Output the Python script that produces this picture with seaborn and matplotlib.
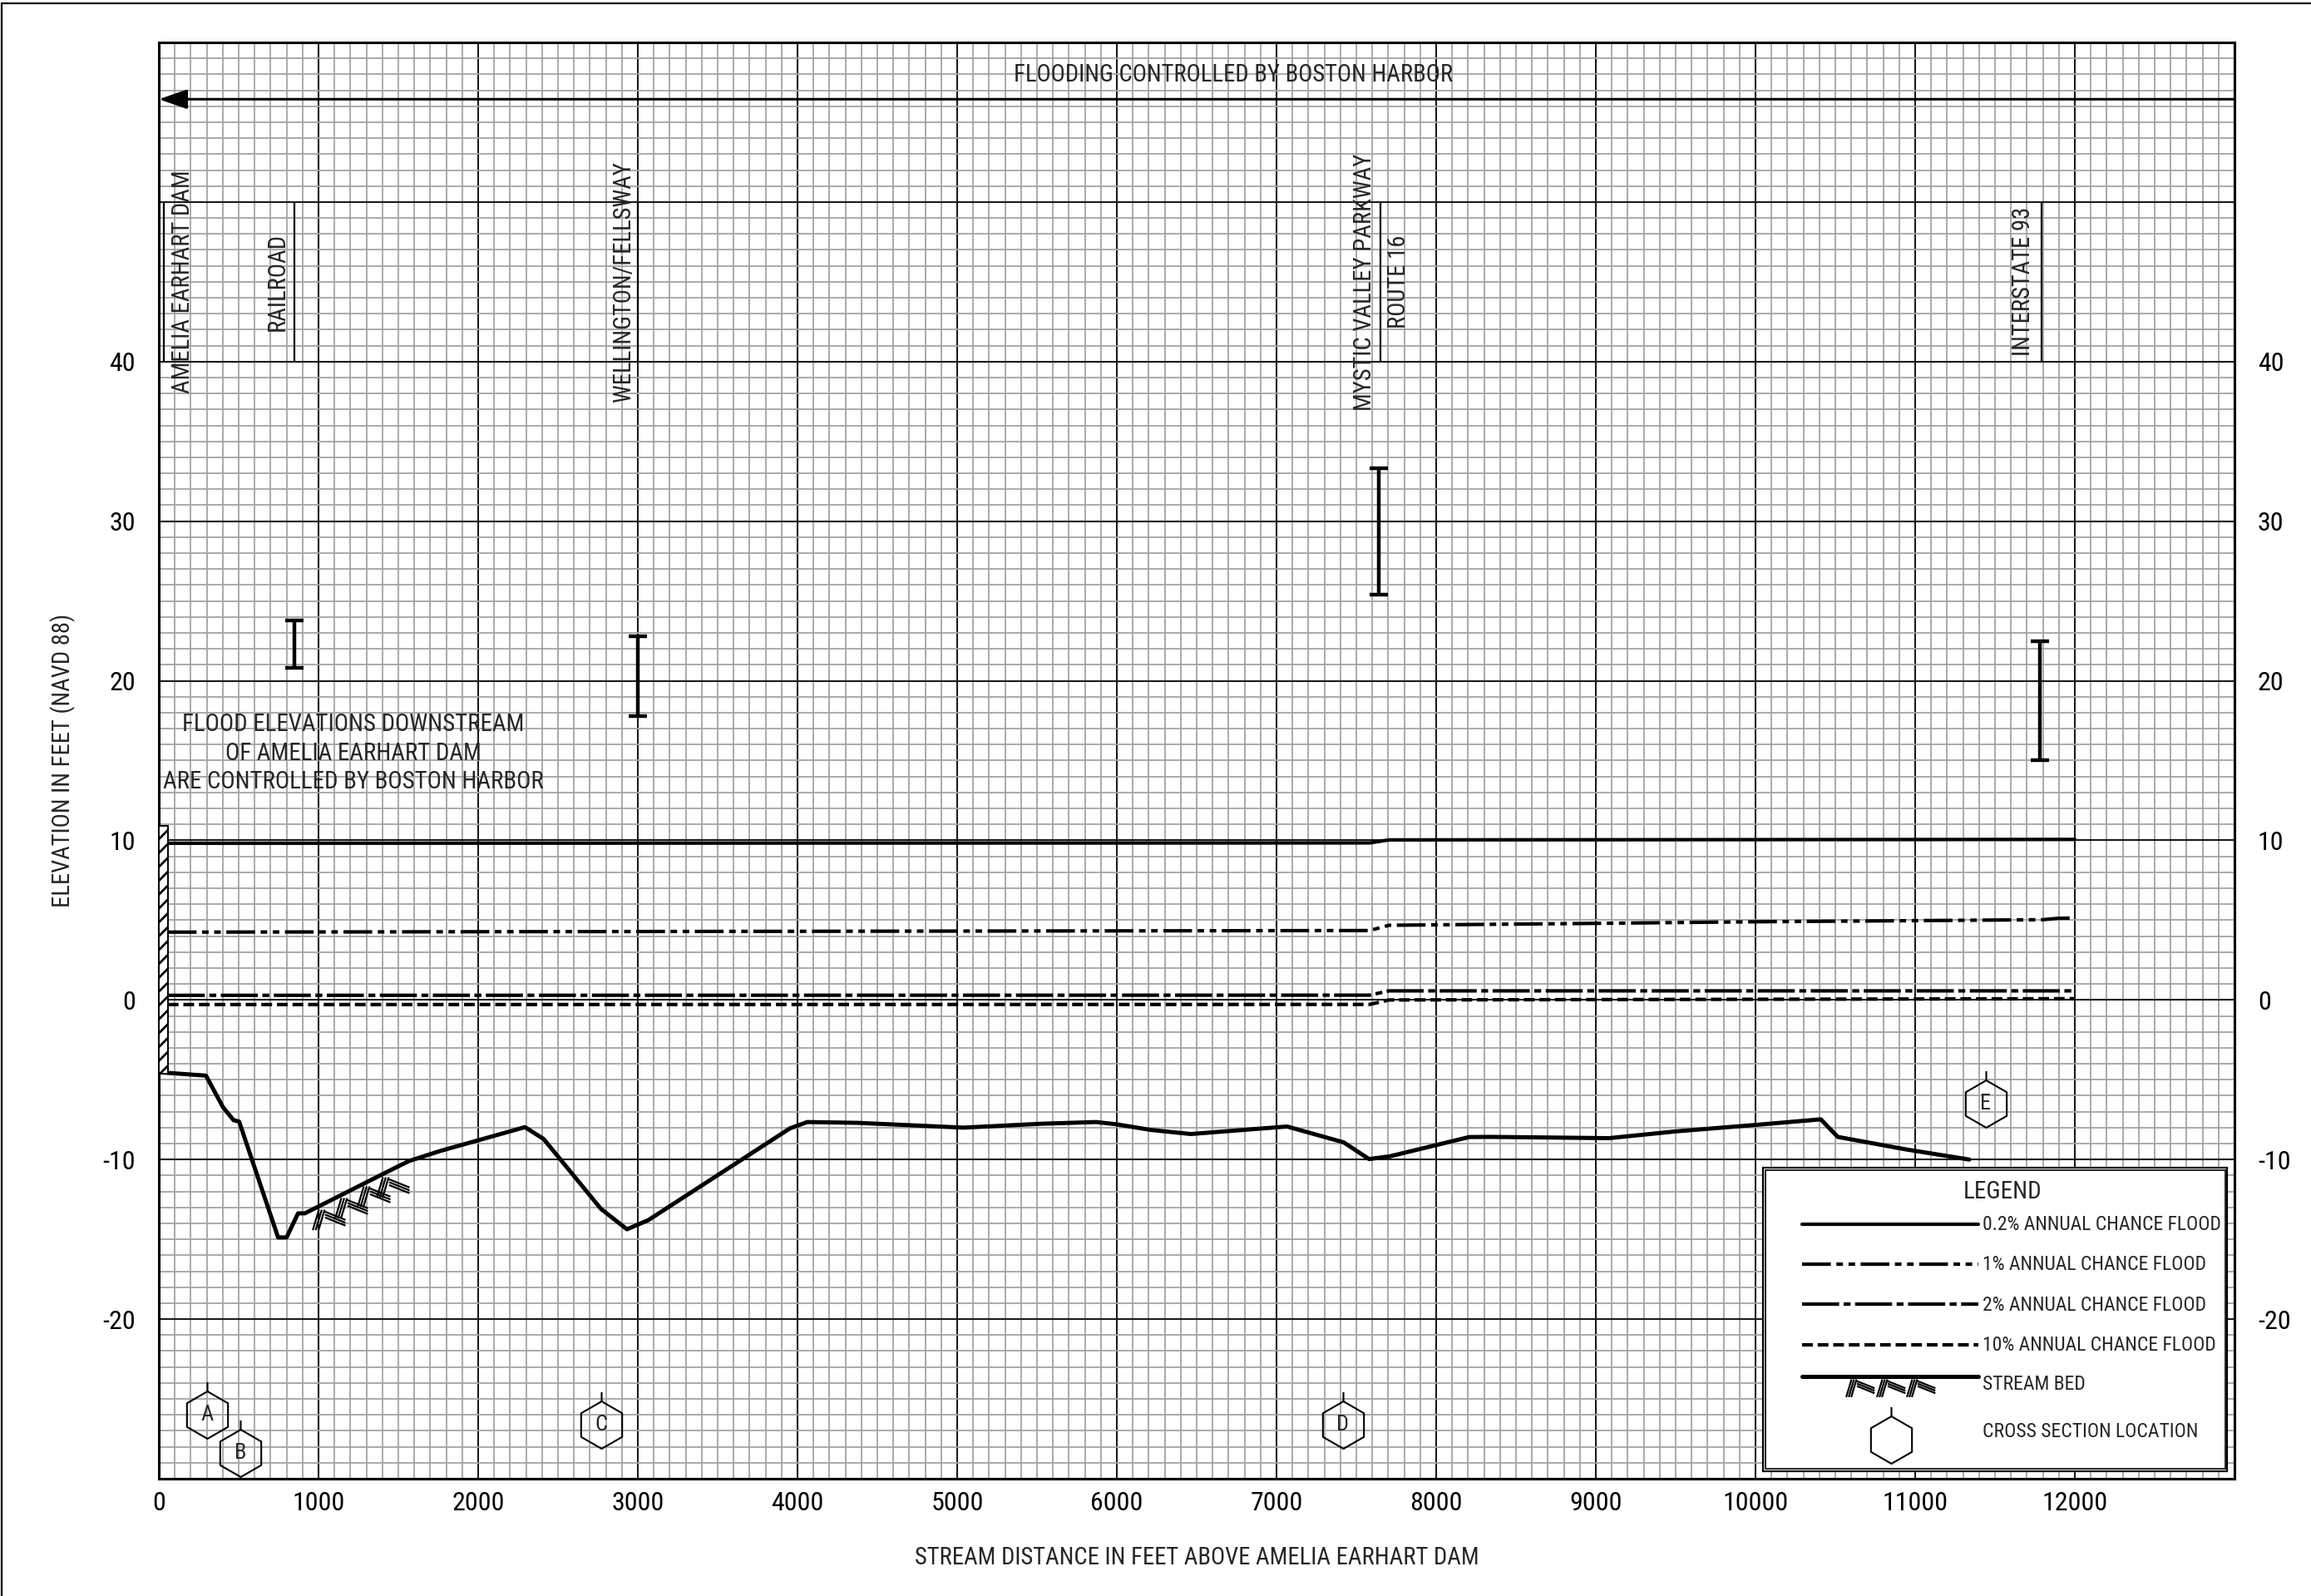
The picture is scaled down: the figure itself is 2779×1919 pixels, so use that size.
import numpy as np
import pandas as pd
import matplotlib
matplotlib.use("Agg")
import matplotlib.pyplot as plt
from matplotlib import font_manager
from matplotlib.path import Path
from matplotlib.patches import Rectangle
from matplotlib.lines import Line2D
from matplotlib.ticker import MultipleLocator, FuncFormatter
import seaborn as sns

# ---- data ----
BED_X = [0, 295, 402, 468, 503, 747, 800, 872, 915, 1484, 1565, 1763, 2293, 2410,
         2769, 2932, 3065, 3952, 4061, 4375, 5040, 5519, 5870, 5997, 6210, 6463,
         7066, 7420, 7580, 7713, 8207, 8340, 9082, 9506, 10000, 10409, 10515,
         10940, 11339]
BED_Y = [-4.53, -4.74, -6.72, -7.53, -7.62, -14.88, -14.88, -13.37, -13.37, -10.5,
         -10.1, -9.46, -7.97, -8.71, -13.09, -14.37, -13.8, -8.05, -7.65, -7.70,
         -8.0, -7.76, -7.65, -7.79, -8.14, -8.40, -7.93, -8.92, -9.97, -9.79,
         -8.59, -8.58, -8.66, -8.23, -7.83, -7.48, -8.58, -9.36, -10.0]

P02_X = [56, 7583, 7705, 12000]
P02_Y = [9.82, 9.84, 10.03, 10.06]
P1_X = [56, 7583, 7705, 9000, 10000, 11000, 11800, 11900, 12000]
P1_Y = [4.25, 4.35, 4.68, 4.80, 4.90, 4.97, 5.03, 5.12, 5.13]
P2_X = [56, 7583, 7705, 12000]
P2_Y = [0.29, 0.30, 0.57, 0.57]
P10_X = [56, 7583, 7705, 12000]
P10_Y = [-0.29, -0.28, 0.0, 0.08]

PROFILE_NAMES = ["0.2% ANNUAL CHANCE FLOOD", "1% ANNUAL CHANCE FLOOD",
                 "2% ANNUAL CHANCE FLOOD", "10% ANNUAL CHANCE FLOOD"]

ROAD_NAMES = ["AMELIA EARHART DAM", "RAILROAD", "WELLINGTON/FELLSWAY",
              "MYSTIC VALLEY PARKWAY", "ROUTE 16", "INTERSTATE 93"]
ROAD_LABEL_X = [151, 745, 2911, 7550, 7765, 11675]
ROAD_LINE_X = [30, 850, 3000, 7650, 11790]

DECK_X = [850, 3000, 7643, 11780]
DECK_TOP = [23.8, 22.8, 33.3, 22.5]
DECK_LOW = [20.8, 17.8, 25.4, 15.0]

XS_LETTERS = ["A", "B", "C", "D", "E"]
XS_X = [300, 513, 2769, 7415, 11441]
XS_Y = [-26.0, -28.4, -26.6, -26.6, -6.5]

BED_SYMBOL_X = [1000, 1140, 1280, 1400]

DAM_X = [0, 55]
DAM_Y = [-4.6, 10.9]

X_MAX, Y_MIN, Y_MAX = 13000, -30, 60


def pick_font():
    fonts = font_manager.fontManager.ttflist
    names = {f.name for f in fonts}
    for name in ("Liberation Sans Narrow", "Roboto Condensed", "Open Sans Condensed"):
        if name in names:
            return name, "normal"
    if any(f.name == "DejaVu Sans" and "Condensed" in f.fname for f in fonts):
        return "DejaVu Sans", "condensed"
    return "Liberation Sans", "normal"


def bed_marker():
    # triple-stroke stream bed symbol, apex at (0, 0)
    verts, codes = [], []
    for k in range(3):
        d = 0.14 * k
        verts += [(d, 0.0), (d - 0.3, -1.0), (0.3, -0.1 - d), (1.3, -0.5 - d)]
        codes += [Path.MOVETO, Path.LINETO, Path.MOVETO, Path.LINETO]
    return Path(verts, codes)


def xs_marker():
    hexagon = Path.unit_regular_polygon(6)
    verts = list(hexagon.vertices) + [(0, 1.0), (0, 1.39)]
    codes = list(hexagon.codes) + [Path.MOVETO, Path.LINETO]
    return Path(verts, codes)


sns.set_style("white")
font_name, font_stretch = pick_font()
plt.rcParams["font.family"] = [font_name, "DejaVu Sans"]
plt.rcParams["font.stretch"] = font_stretch
plt.rcParams["axes.unicode_minus"] = False

fig = plt.figure(figsize=(2779 / 200, 1919 / 200), dpi=200)
ax = fig.add_axes([191 / 2779, 1 - 1778 / 1919, 2496 / 2779, 1727 / 1919])

ax.set_xlim(0, X_MAX)
ax.set_ylim(Y_MIN, Y_MAX)
ax.xaxis.set_major_locator(MultipleLocator(1000))
ax.xaxis.set_minor_locator(MultipleLocator(100))
ax.yaxis.set_major_locator(MultipleLocator(10))
ax.yaxis.set_minor_locator(MultipleLocator(1))
ax.xaxis.set_major_formatter(FuncFormatter(lambda v, p: f"{v:.0f}" if v <= 12000 else ""))
ax.yaxis.set_major_formatter(FuncFormatter(lambda v, p: f"{v:.0f}" if -20 <= v <= 40 else ""))
ax.tick_params(which="both", length=0, labelsize=11.5, colors="black")
ax.tick_params(axis="x", pad=5.5)
ax.tick_params(axis="y", pad=10, labelright=True)
ax.set_axisbelow(True)
ax.grid(which="minor", color="#a4a4a4", lw=0.65)
ax.grid(which="major", color="#1a1a1a", lw=0.75)
for sp in ax.spines.values():
    sp.set_color("black")
    sp.set_linewidth(1.1)

ax.set_xlabel("STREAM DISTANCE IN FEET ABOVE AMELIA EARHART DAM", fontsize=10.3)
ax.set_ylabel("ELEVATION IN FEET (NAVD 88)", fontsize=10.3)
ax.xaxis.set_label_coords(0.5, -0.047)
ax.yaxis.set_label_coords(-0.040, 0.5)

# flood profiles
LW = 1.5
profiles = pd.concat([
    pd.DataFrame({"distance": xs, "elevation": ys, "profile": name})
    for xs, ys, name in zip([P02_X, P1_X, P2_X, P10_X], [P02_Y, P1_Y, P2_Y, P10_Y], PROFILE_NAMES)
])
dash_map = {
    PROFILE_NAMES[0]: "",
    PROFILE_NAMES[1]: (8.3, 1.6, 1.9, 1.6, 1.9, 1.6),
    PROFILE_NAMES[2]: (10.7, 1.3, 2.0, 1.3),
    PROFILE_NAMES[3]: (3.1, 1.4),
}
sns.lineplot(data=profiles, x="distance", y="elevation", style="profile",
             dashes=dash_map, color="black", lw=LW, estimator=None, sort=False,
             legend=False, ax=ax, zorder=3)

# stream bed
bed = pd.DataFrame({"distance": BED_X, "elevation": BED_Y})
sns.lineplot(data=bed, x="distance", y="elevation", color="black", lw=1.8,
             estimator=None, sort=False, ax=ax, zorder=3)
sym_y = np.interp(BED_SYMBOL_X, BED_X, BED_Y) - 0.15
ax.plot(BED_SYMBOL_X, sym_y, linestyle="none", marker=bed_marker(), markersize=23,
        markerfacecolor="none", markeredgecolor="black", markeredgewidth=0.8, zorder=3)

# dam
ax.add_patch(Rectangle((DAM_X[0], DAM_Y[0]), DAM_X[1] - DAM_X[0], DAM_Y[1] - DAM_Y[0],
                       facecolor="white", edgecolor="black", hatch="////", lw=0.7, zorder=3))

# bridge decks
deck_mid = [(t + l) / 2 for t, l in zip(DECK_TOP, DECK_LOW)]
deck_half = [(t - l) / 2 for t, l in zip(DECK_TOP, DECK_LOW)]
ax.errorbar(DECK_X, deck_mid, yerr=deck_half, fmt="none", ecolor="black",
            elinewidth=1.6, capsize=3.9, capthick=1.6, zorder=3)

# road / structure labels
ax.vlines(ROAD_LINE_X, 40, 50, colors="black", lw=0.8, zorder=3)
for name, x in zip(ROAD_NAMES, ROAD_LABEL_X):
    ax.text(x, 45, name, rotation=90, ha="center", va="center", fontsize=10.3, zorder=4)

# cross sections
ax.plot(XS_X, XS_Y, linestyle="none", marker=xs_marker(), markersize=28.5,
        markerfacecolor="none", markeredgecolor="black", markeredgewidth=0.75, zorder=3)
for letter, x, y in zip(XS_LETTERS, XS_X, XS_Y):
    ax.text(x, y, letter, ha="center", va="center", fontsize=9.5, zorder=4)

# harbor control notes
ax.annotate("", xy=(0, 56.44), xytext=(X_MAX, 56.44),
            arrowprops=dict(arrowstyle="-|>,head_length=1.04,head_width=0.36",
                            mutation_scale=10, lw=1.1, color="black",
                            shrinkA=0, shrinkB=0), zorder=3)
ax.text(6729, 57.97, "FLOODING CONTROLLED BY BOSTON HARBOR", ha="center", va="center",
        fontsize=10.3, zorder=4)
ax.text(1216, 15.45, "FLOOD ELEVATIONS DOWNSTREAM\nOF AMELIA EARHART DAM\nARE CONTROLLED BY BOSTON HARBOR",
        ha="center", va="center", fontsize=10.4, linespacing=1.3, zorder=4)

# legend (drawn by hand, double frame)
ax.add_patch(Rectangle((10049, -29.54), 12954 - 10049, -10.52 + 29.54,
                       facecolor="white", edgecolor="black", lw=0.8, zorder=5))
ax.add_patch(Rectangle((10062, -29.40), 12954 - 10049 - 26, -10.52 + 29.54 - 0.28,
                       facecolor="none", edgecolor="black", lw=0.6, zorder=5))
ax.text(11549, -12.03, "LEGEND", ha="center", va="center", fontsize=10.5, zorder=6)
row_y = [-14.03, -16.55, -19.07, -21.59]
for name, y in zip(PROFILE_NAMES, row_y):
    ls = "-" if dash_map[name] == "" else (0, dash_map[name])
    ax.add_line(Line2D([10292, 11396], [y, y], color="black", lw=LW, linestyle=ls, zorder=6))
    ax.text(11420, y - 0.05, name, ha="left", va="center", fontsize=8.5, zorder=6)
ax.add_line(Line2D([10292, 11396], [-23.59, -23.59], color="black", lw=1.8, zorder=6))
ax.plot([10600, 10790, 10980], [-23.75] * 3, linestyle="none", marker=bed_marker(),
        markersize=20, markerfacecolor="none", markeredgecolor="black",
        markeredgewidth=0.8, zorder=6)
ax.text(11420, -24.1, "STREAM BED", ha="left", va="center", fontsize=8.5, zorder=6)
ax.plot([10849], [-27.55], linestyle="none", marker=xs_marker(), markersize=28.5,
        markerfacecolor="none", markeredgecolor="black", markeredgewidth=0.75, zorder=6)
ax.text(11420, -27.05, "CROSS SECTION LOCATION", ha="left", va="center", fontsize=8.5, zorder=6)

# sheet border
fig.add_artist(Line2D([1.5 / 2779, 1.5 / 2779], [0, 1 - 4 / 1919], color="black", lw=0.8))
fig.add_artist(Line2D([1.5 / 2779, 1], [1 - 4 / 1919, 1 - 4 / 1919], color="black", lw=0.8))

fig.savefig("out.png", dpi=200)
